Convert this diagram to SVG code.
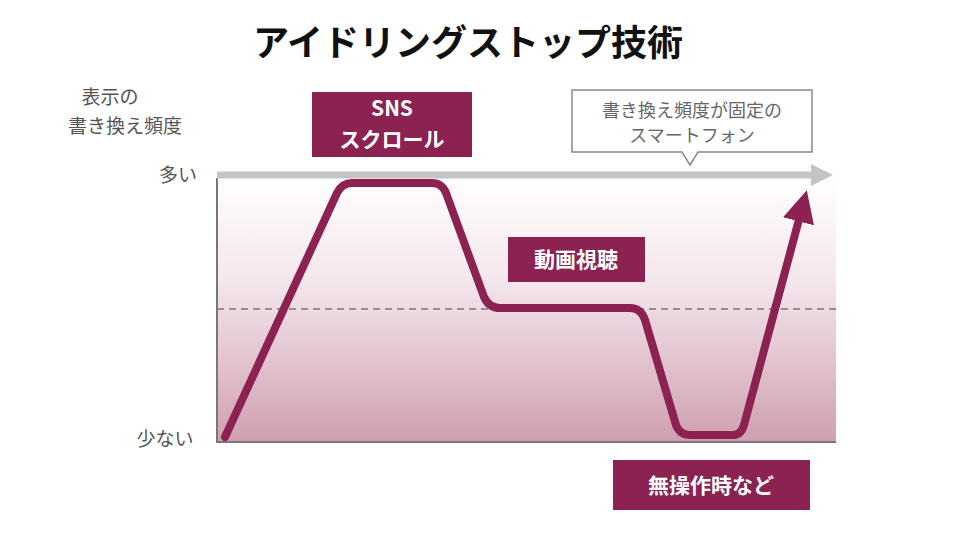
<svg xmlns="http://www.w3.org/2000/svg" width="960" height="540" viewBox="0 0 960 540">
<defs>
<linearGradient id="bg" x1="0" y1="0" x2="0" y2="1">
<stop offset="0" stop-color="#ffffff"/>
<stop offset="0.4" stop-color="#f4e6ec"/>
<stop offset="1" stop-color="#cf9fb0"/>
</linearGradient>
<marker id="gArrow" viewBox="0 0 10 10" refX="2" refY="5" markerWidth="3.2" markerHeight="3.2" orient="auto" markerUnits="strokeWidth"><path d="M0,0 L10,5 L0,10 Z" fill="#c4c4c8"/></marker>
<marker id="mArrow" viewBox="0 0 10 10" refX="3" refY="5" markerWidth="4" markerHeight="4" orient="auto" markerUnits="strokeWidth"><path d="M0,0 L10,5 L0,10 Z" fill="#8b2252"/></marker>
</defs>
<style>
text{font-family:"Noto Sans CJK JP","Noto Sans",sans-serif}
.ax{font-size:19px;fill:#555}
.lbl{fill:#8b2252}
.lt{font-size:21px;font-weight:bold;fill:#fff;text-anchor:middle}
</style>
<rect width="960" height="540" fill="#fff"/>
<text x="468" y="56" text-anchor="middle" font-size="36" font-weight="bold" fill="#111">アイドリングストップ技術</text>
<g id="axes">
<rect x="217" y="175" width="619" height="267" fill="url(#bg)"/>
<line x1="217" y1="309" x2="836" y2="309" stroke="#777" stroke-width="1.5" stroke-dasharray="7,5"/>
<polyline points="217,178 217,442 836,442" fill="none" stroke="#777" stroke-width="2"/>
<text class="ax" x="110" y="104" text-anchor="middle">表示の</text>
<text class="ax" x="125" y="133" text-anchor="middle">書き換え頻度</text>
<text class="ax" x="178" y="182" text-anchor="middle">多い</text>
<text class="ax" x="165" y="446" text-anchor="middle">少ない</text>
</g>
<g id="connectors">
<line x1="217" y1="175" x2="815" y2="175" stroke="#c4c4c8" stroke-width="7" marker-end="url(#gArrow)"/>
<path d="M225,437 L337,193 Q342,183 352,183 L432,183 Q442,183 446,193 L484,297 Q489,308 500,308 L630,308 Q641,308 645,320 L676,425 Q680,435 690,435 L733,435 Q741,435 744,425 L801,212" fill="none" stroke="#8b2252" stroke-width="8" stroke-linejoin="round" stroke-linecap="round" marker-end="url(#mArrow)"/>
</g>
<g id="sns">
<rect class="lbl" x="312" y="92" width="160" height="65"/>
<text class="lt" x="392" y="116">SNS</text>
<text class="lt" x="392" y="147">スクロール</text>
</g>
<g id="video">
<rect class="lbl" x="508" y="237" width="137" height="45"/>
<text class="lt" x="576" y="267">動画視聴</text>
</g>
<g id="idle">
<rect class="lbl" x="613" y="460" width="197" height="50"/>
<text class="lt" x="711" y="493">無操作時など</text>
</g>
<g id="callout">
<path d="M572,90 L812,90 L812,152 L698,152 L690,165 L682,152 L572,152 Z" fill="#fff" stroke="#888" stroke-width="1.5"/>
<text x="692" y="117" text-anchor="middle" font-size="18" fill="#666">書き換え頻度が固定の</text>
<text x="692" y="142" text-anchor="middle" font-size="18" fill="#666">スマートフォン</text>
</g>
</svg>
